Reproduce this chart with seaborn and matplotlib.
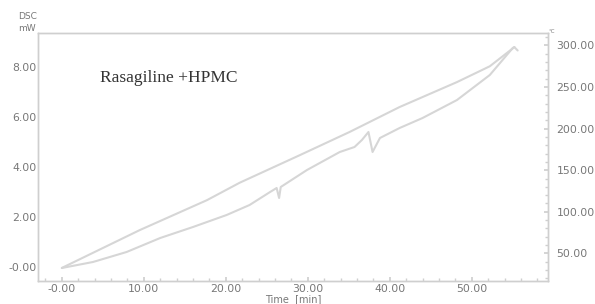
import matplotlib
matplotlib.use("Agg")
import matplotlib.pyplot as plt
import seaborn as sns
import pandas as pd
from matplotlib.ticker import AutoMinorLocator

# Temperature trace (right axis, °C)
temp_time = [0.0, 9.5, 17.7, 21.7, 29.0, 35.1, 41.2, 48.2, 52.2, 55.2, 55.6]
temp_val = [32.5, 78, 114, 135, 168, 196, 226, 256, 275, 298, 294]

# DSC trace (left axis, mW)
dsc_time = [0.0, 3.8, 7.9, 12.0, 16.0, 20.1, 22.9, 25.4, 26.2, 26.5, 26.7,
            29.9, 33.9, 35.7, 36.6, 37.4, 37.9, 38.8, 41.2, 44.0, 48.2,
            52.2, 55.0, 55.2]
dsc_val = [-0.04, 0.2, 0.6, 1.16, 1.6, 2.08, 2.48, 3.0, 3.16, 2.76, 3.2,
           3.88, 4.6, 4.8, 5.08, 5.4, 4.6, 5.16, 5.56, 5.96, 6.68,
           7.68, 8.76, 8.8]

x_ticks = [0, 10, 20, 30, 40, 50]
x_labels = ["-0.00", "10.00", "20.00", "30.00", "40.00", "50.00"]
y_ticks = [0, 2, 4, 6, 8]
y_labels = ["-0.00", "2.00", "4.00", "6.00", "8.00"]
r_ticks = [50, 100, 150, 200, 250, 300]
r_labels = ["50.00", "100.00", "150.00", "200.00", "250.00", "300.00"]

sns.set_theme(style="white")
plt.rcParams['font.family'] = ['DejaVu Sans']

fig = plt.figure(figsize=(5.95, 3.04), dpi=100)
ax = fig.add_axes([0.064, 0.0757, 0.857, 0.8157])
ax2 = ax.twinx()

line_col = "#d6d6d6"
dsc_df = pd.DataFrame({"t": dsc_time, "v": dsc_val})
tmp_df = pd.DataFrame({"t": temp_time, "v": temp_val})
sns.lineplot(data=dsc_df, x="t", y="v", ax=ax, color=line_col, lw=1.5,
             sort=False, estimator=None)
sns.lineplot(data=tmp_df, x="t", y="v", ax=ax2, color=line_col, lw=1.5,
             sort=False, estimator=None)

ax.set_xlim(-2.9, 59.3)
ax.set_ylim(-0.56, 9.36)
ax2.set_ylim(16.8, 315)

tick_col = "#777777"
spine_col = "#cfcfcf"
ax.set_xticks(x_ticks)
ax.set_xticklabels(x_labels)
ax.set_yticks(y_ticks)
ax.set_yticklabels(y_labels)
ax2.set_yticks(r_ticks)
ax2.set_yticklabels(r_labels)

for a in (ax, ax2):
    for s in a.spines.values():
        s.set_color(spine_col)
        s.set_linewidth(1.0)
ax.xaxis.set_minor_locator(AutoMinorLocator(5))
ax2.yaxis.set_minor_locator(AutoMinorLocator(5))
ax.tick_params(axis="x", which="major", colors=spine_col, labelcolor=tick_col,
               labelsize=7.8, length=3, pad=2, direction="in", bottom=True)
ax.tick_params(axis="x", which="minor", colors=spine_col, length=2,
               direction="in", bottom=True)
ax.tick_params(axis="y", which="major", colors=spine_col, labelcolor=tick_col,
               labelsize=7.8, length=0, pad=1)
ax2.tick_params(axis="y", which="major", colors=spine_col, labelcolor=tick_col,
                labelsize=7.8, length=3, pad=6, direction="in", right=True)
ax2.tick_params(axis="y", which="minor", colors=spine_col, length=2,
                direction="in", right=True)
ax.set_ylabel("")
ax2.set_ylabel("")
ax.set_xlabel("Time  [min]", fontsize=7, color=tick_col, labelpad=0)

fig.text(0.046, 0.947, "DSC", fontsize=6.5, color=tick_col, ha="center", va="center")
fig.text(0.046, 0.907, "mW", fontsize=6.5, color=tick_col, ha="center", va="center")
fig.text(0.928, 0.898, "°C", fontsize=4, color=tick_col, ha="center", va="center")

ax.text(0.121, 0.82, "Rasagiline +HPMC", transform=ax.transAxes,
        fontsize=12.5, color="#333333", family="Liberation Serif",
        ha="left", va="center")

fig.savefig("out.png", dpi=100)
